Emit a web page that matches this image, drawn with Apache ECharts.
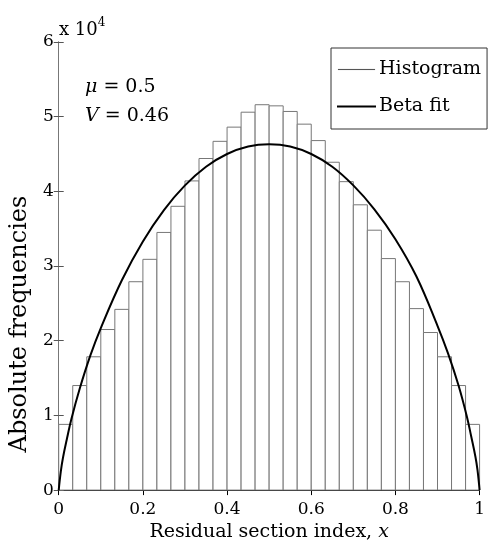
<!DOCTYPE html>
<html>
<head>
<meta charset="utf-8">
<script src="https://cdn.jsdelivr.net/npm/echarts@6/dist/echarts.min.js"></script>
<style>
html,body{margin:0;padding:0;background:#fff;}
#chart{width:488px;height:547px;}
</style>
</head>
<body>
<div id="chart"></div>
<script>
// Histogram: 30 equal bins on [0,1], absolute counts
const binCount = 30;
const histCounts = [8800, 14000, 17850, 21500, 24200, 27900, 30900, 34500, 38000, 41400,
                    44400, 46700, 48600, 50600, 51600, 51450, 50700, 49000, 46800, 43900,
                    41300, 38200, 34800, 31000, 27900, 24300, 21100, 17850, 14000, 8800];
// Beta fit curve
const fitX = [0, 0.005, 0.01, 0.02, 0.03, 0.05, 0.075, 0.1, 0.15, 0.2, 0.25, 0.3, 0.35, 0.4, 0.45, 0.5,
              0.55, 0.6, 0.65, 0.7, 0.75, 0.8, 0.85, 0.9, 0.925, 0.95, 0.97, 0.98, 0.99, 0.995, 1];
const fitY = [0, 2500, 4300, 7000, 9500, 13600, 18000, 21700, 28100, 33300, 37500, 40800, 43300, 45000, 46000, 46300,
              46000, 45000, 43300, 40800, 37600, 33600, 28600, 22000, 18300, 14000, 9800, 7200, 4500, 2700, 0];
const xTicks = [0, 0.2, 0.4, 0.6, 0.8, 1];
const yTicks = [0, 1, 2, 3, 4, 5, 6];

const FONT = 'DejaVu Serif';
const histData = histCounts.map((c, i) => [i / binCount, (i + 1) / binCount, c]);
const fitData = fitX.map((x, i) => [x, fitY[i]]);

const chart = echarts.init(document.getElementById('chart'), null, {renderer: 'canvas'});
chart.setOption({
  animation: false,
  backgroundColor: '#fff',
  textStyle: {fontFamily: FONT},
  title: [
    {
      text: '{a|x 10}{b|4}',
      left: 54, top: 12,
      textStyle: {
        fontWeight: 'normal',
        rich: {
          a: {fontFamily: FONT, fontSize: 18, fontWeight: 'normal', color: '#000', verticalAlign: 'bottom'},
          b: {fontFamily: FONT, fontSize: 12, fontWeight: 'normal', color: '#000', verticalAlign: 'top', padding: [0, 0, 10, 0]}
        }
      }
    },
    {
      text: '{i|μ} = 0.5\n{i|V} = 0.46',
      left: 80, top: 68,
      textStyle: {
        fontFamily: FONT, fontSize: 19, fontWeight: 'normal', color: '#000', lineHeight: 29,
        rich: {i: {fontFamily: FONT, fontSize: 19, fontStyle: 'italic', fontWeight: 'normal', color: '#000', lineHeight: 29}}
      }
    }
  ],
  legend: {
    left: 331, top: 48,
    orient: 'vertical',
    padding: [12, 6, 13, 6],
    itemGap: 18,
    itemWidth: 37,
    itemHeight: 0.1,
    borderColor: '#333',
    borderWidth: 1,
    borderRadius: 0,
    backgroundColor: '#fff',
    textStyle: {fontFamily: FONT, fontSize: 19, color: '#000', padding: [0, 0, 0, -1]},
    data: [
      {name: 'Histogram', icon: 'rect', itemStyle: {color: 'rgba(0,0,0,0)', borderColor: '#555', borderWidth: 1}},
      {name: 'Beta fit', icon: 'rect', itemStyle: {color: 'rgba(0,0,0,0)', borderColor: '#000', borderWidth: 2}}
    ]
  },
  grid: {left: 57, right: 1, top: 42, bottom: 50, containLabel: false},
  xAxis: [
    {
      type: 'value', min: 0, max: 1, interval: 0.2, position: 'bottom',
      axisLine: {show: true, lineStyle: {color: '#777', width: 1}},
      axisTick: {show: true, inside: true, length: 5, lineStyle: {color: '#777'}},
      axisLabel: {show: true, margin: 11, fontFamily: FONT, fontSize: 17, color: '#000',
                  formatter: v => String(+v.toFixed(1))},
      splitLine: {show: false},
      name: 'Residual section index, {i|x}',
      nameLocation: 'middle', nameGap: 29,
      nameTextStyle: {fontFamily: FONT, fontSize: 19, color: '#000',
                      rich: {i: {fontFamily: FONT, fontSize: 19, fontStyle: 'italic', color: '#000'}}}
    },
    {
      type: 'value', min: 0, max: 1, interval: 0.2, position: 'top',
      axisLine: {show: true, lineStyle: {color: '#000', width: 1}},
      axisTick: {show: true, inside: true, length: 5, lineStyle: {color: '#000'}},
      axisLabel: {show: false},
      splitLine: {show: false}
    }
  ],
  yAxis: [
    {
      type: 'value', min: 0, max: 60000, interval: 10000, position: 'left',
      axisLine: {show: true, lineStyle: {color: '#777', width: 1}},
      axisTick: {show: true, inside: true, length: 5, lineStyle: {color: '#555'}},
      axisLabel: {show: true, margin: 5, fontFamily: FONT, fontSize: 17, color: '#000',
                  formatter: v => String(yTicks[Math.round(v / 10000)])},
      splitLine: {show: false},
      name: 'Absolute frequencies',
      nameLocation: 'middle', nameRotate: 90, nameGap: 25,
      nameTextStyle: {fontFamily: FONT, fontSize: 24, color: '#000', padding: [0, 116, 0, 0]}
    },
    {
      type: 'value', min: 0, max: 60000, interval: 10000, position: 'right',
      axisLine: {show: true, lineStyle: {color: '#777', width: 1}},
      axisTick: {show: true, inside: true, length: 5, lineStyle: {color: '#555'}},
      axisLabel: {show: false},
      splitLine: {show: false}
    }
  ],
  series: [
    {
      name: 'Histogram',
      type: 'custom',
      xAxisIndex: 0, yAxisIndex: 0,
      encode: {x: [0, 1], y: 2},
      data: histData,
      z: 2,
      renderItem: function (params, api) {
        const x0 = api.value(0), x1 = api.value(1), v = api.value(2);
        const pTop = api.coord([x0, v]);
        const pBot = api.coord([x1, 0]);
        return {
          type: 'rect',
          shape: {x: pTop[0], y: pTop[1], width: pBot[0] - pTop[0], height: pBot[1] - pTop[1]},
          style: {fill: '#fff', stroke: '#777', lineWidth: 1}
        };
      }
    },
    {
      name: 'Beta fit',
      type: 'line',
      xAxisIndex: 0, yAxisIndex: 0,
      data: fitData,
      smooth: 0.4,
      symbol: 'none',
      z: 3,
      lineStyle: {color: '#000', width: 2},
      itemStyle: {color: '#000'}
    }
  ]
});
</script>
</body>
</html>
